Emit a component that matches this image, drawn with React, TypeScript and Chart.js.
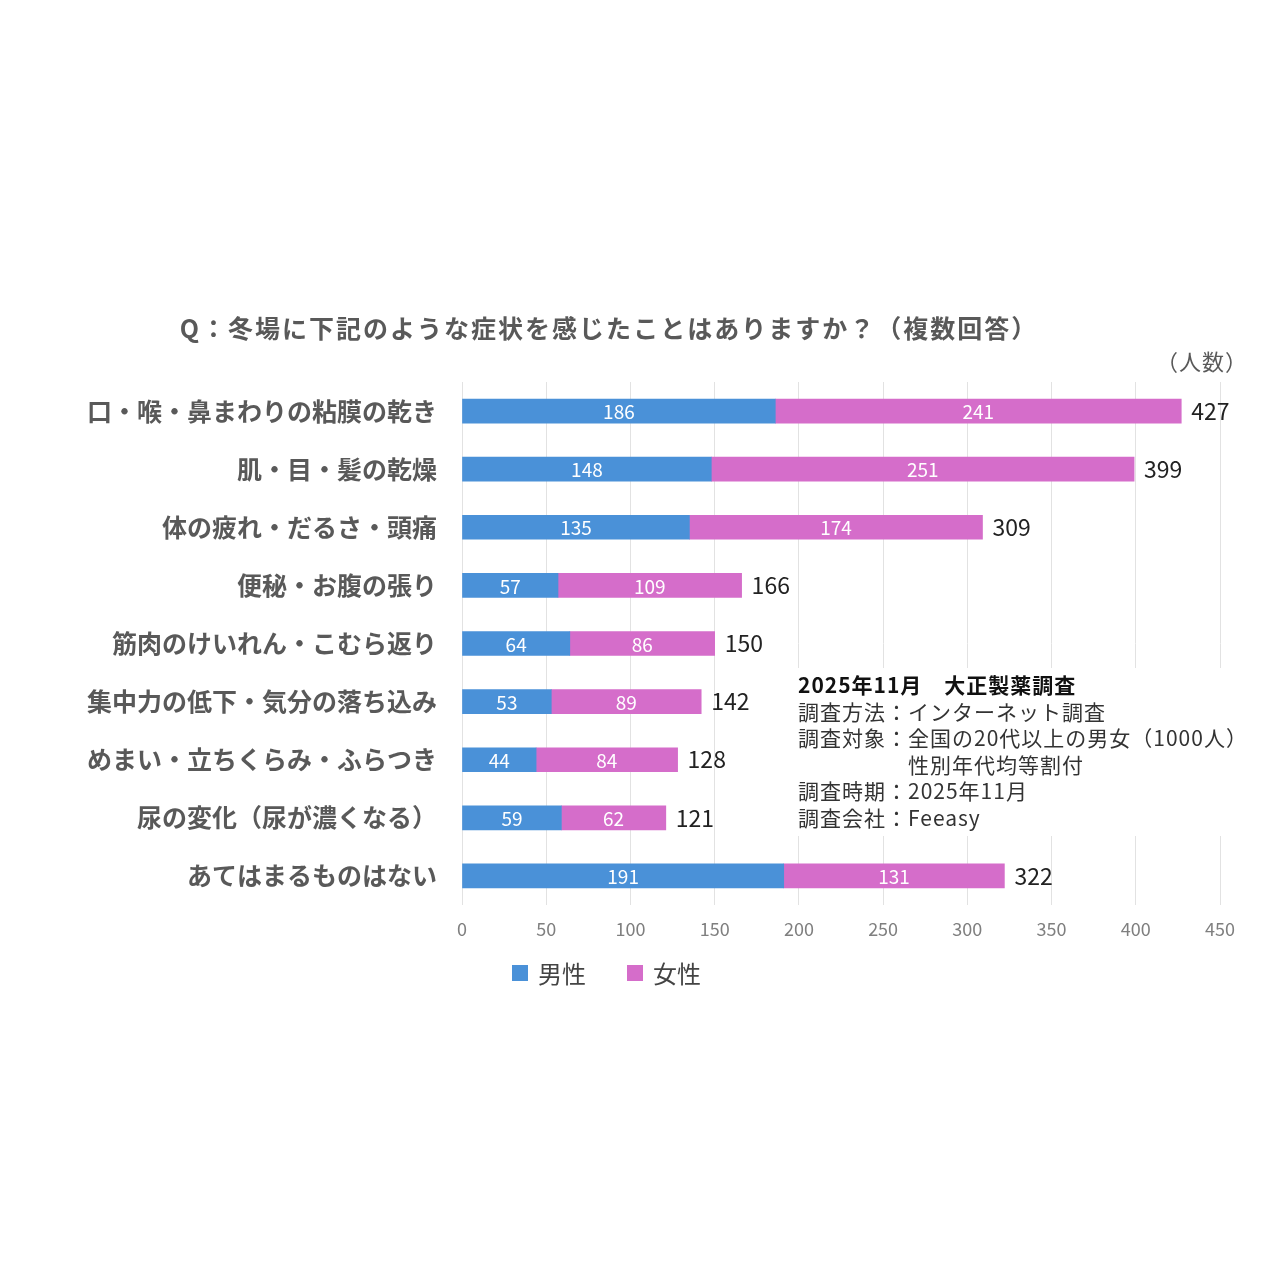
import React, { useRef, useEffect } from 'react';
import { Chart, registerables } from 'chart.js';

Chart.register(...registerables);

const categories = [
  '口・喉・鼻まわりの粘膜の乾き',
  '肌・目・髪の乾燥',
  '体の疲れ・だるさ・頭痛',
  '便秘・お腹の張り',
  '筋肉のけいれん・こむら返り',
  '集中力の低下・気分の落ち込み',
  'めまい・立ちくらみ・ふらつき',
  '尿の変化（尿が濃くなる）',
  'あてはまるものはない',
];
const male = [186, 148, 135, 57, 64, 53, 44, 59, 191];
const female = [241, 251, 174, 109, 86, 89, 84, 62, 131];
const totals = [427, 399, 309, 166, 150, 142, 128, 121, 322];
const seriesNames = ['男性', '女性'];
const xTicks = [0, 50, 100, 150, 200, 250, 300, 350, 400, 450];

const titleText = 'Q：冬場に下記のような症状を感じたことはありますか？（複数回答）';
const unitText = '（人数）';
const noteHead = '2025年11月　大正製薬調査';
const noteLines = [
  '調査方法：インターネット調査',
  '調査対象：全国の20代以上の男女（1000人）',
  '　　　　　性別年代均等割付',
  '調査時期：2025年11月',
  '調査会社：Feeasy',
];

const BLUE = '#4a91d8';
const PINK = '#d56dca';
const FONT = '"Noto Sans CJK JP", "Noto Sans", sans-serif';

const overlay = {
  id: 'overlay',
  beforeDatasetsDraw(chart: any) {
    const ctx = chart.ctx;
    ctx.save();
    // note box covers the gridlines
    ctx.fillStyle = '#ffffff';
    ctx.fillRect(788, 668, 458, 168);
    ctx.restore();
  },
  afterDatasetsDraw(chart: any) {
    const ctx = chart.ctx;
    ctx.save();
    ctx.textBaseline = 'middle';

    // segment labels
    ctx.fillStyle = '#ffffff';
    ctx.textAlign = 'center';
    ctx.font = `19px ${FONT}`;
    chart.data.datasets.forEach((ds: any, di: number) => {
      const meta = chart.getDatasetMeta(di);
      meta.data.forEach((el: any, i: number) => {
        const mid = (el.x + el.base) / 2;
        ctx.fillText(String(ds.data[i]), mid, el.y + 1);
      });
    });

    // totals
    const last = chart.getDatasetMeta(chart.data.datasets.length - 1);
    ctx.fillStyle = '#222222';
    ctx.textAlign = 'left';
    ctx.font = `23px ${FONT}`;
    last.data.forEach((el: any, i: number) => {
      ctx.fillText(String(totals[i]), el.x + 10, el.y);
    });

    // title
    ctx.fillStyle = '#595959';
    ctx.textAlign = 'left';
    ctx.font = `bold 25px ${FONT}`;
    ctx.letterSpacing = '2px';
    const tw = ctx.measureText(titleText).width;
    ctx.fillText(titleText, 609 - tw / 2, 328);
    ctx.letterSpacing = '1px';
    ctx.textAlign = 'right';
    ctx.font = `22px ${FONT}`;
    ctx.fillText(unitText, 1248, 362);

    // note
    ctx.textAlign = 'left';
    ctx.fillStyle = '#111111';
    ctx.font = `bold 21px ${FONT}`;
    ctx.fillText(noteHead, 798, 685);
    ctx.fillStyle = '#333333';
    ctx.font = `21px ${FONT}`;
    noteLines.forEach((t, i) => {
      ctx.fillText(t, 798, 712 + i * 26.5);
    });
    ctx.letterSpacing = '0px';

    // legend
    const colors = [BLUE, PINK];
    const lx = [512, 627];
    ctx.font = `24px ${FONT}`;
    seriesNames.forEach((n, i) => {
      ctx.fillStyle = colors[i];
      ctx.fillRect(lx[i], 965, 16, 16);
      ctx.fillStyle = '#444444';
      ctx.fillText(n, lx[i] + 26, 974);
    });
    ctx.restore();
  },
};

export default function App() {
  const canvasRef = useRef<HTMLCanvasElement>(null);
  const chartRef = useRef<Chart | null>(null);

  useEffect(() => {
    if (!canvasRef.current) return;
    if (chartRef.current) chartRef.current.destroy();

    chartRef.current = new Chart(canvasRef.current, {
      type: 'bar',
      data: {
        labels: categories,
        datasets: [
          { label: seriesNames[0], data: male, backgroundColor: BLUE, barThickness: 24 },
          { label: seriesNames[1], data: female, backgroundColor: PINK, barThickness: 24 },
        ],
      },
      options: {
        indexAxis: 'y',
        responsive: true,
        maintainAspectRatio: false,
        animation: false,
        layout: { padding: { left: 0, right: 60, top: 382, bottom: 325 } },
        scales: {
          x: {
            stacked: true,
            min: 0,
            max: 450,
            afterBuildTicks: (s: any) => {
              s.ticks = xTicks.map((v) => ({ value: v }));
            },
            afterFit: (s: any) => {
              s.height = 50;
            },
            grid: { color: '#e2e2e2', drawTicks: false, lineWidth: 1 },
            border: { display: false },
            ticks: {
              color: '#7f7f7f',
              padding: 13,
              font: { family: FONT, size: 18 },
            },
          },
          y: {
            stacked: true,
            afterFit: (s: any) => {
              s.width = 462;
            },
            grid: { display: false, drawTicks: false },
            border: { display: false },
            ticks: {
              color: '#595959',
              padding: 25,
              font: { family: FONT, size: 25, weight: 'bold' },
            },
          },
        },
        plugins: {
          legend: { display: false },
          tooltip: { enabled: false },
          title: { display: false },
        },
      },
      plugins: [overlay],
    });

    return () => {
      if (chartRef.current) {
        chartRef.current.destroy();
        chartRef.current = null;
      }
    };
  }, []);

  return (
    <div style={{ position: 'absolute', left: 0, top: 0, width: 1280, height: 1280, background: '#ffffff' }}>
      <canvas ref={canvasRef} />
    </div>
  );
}
